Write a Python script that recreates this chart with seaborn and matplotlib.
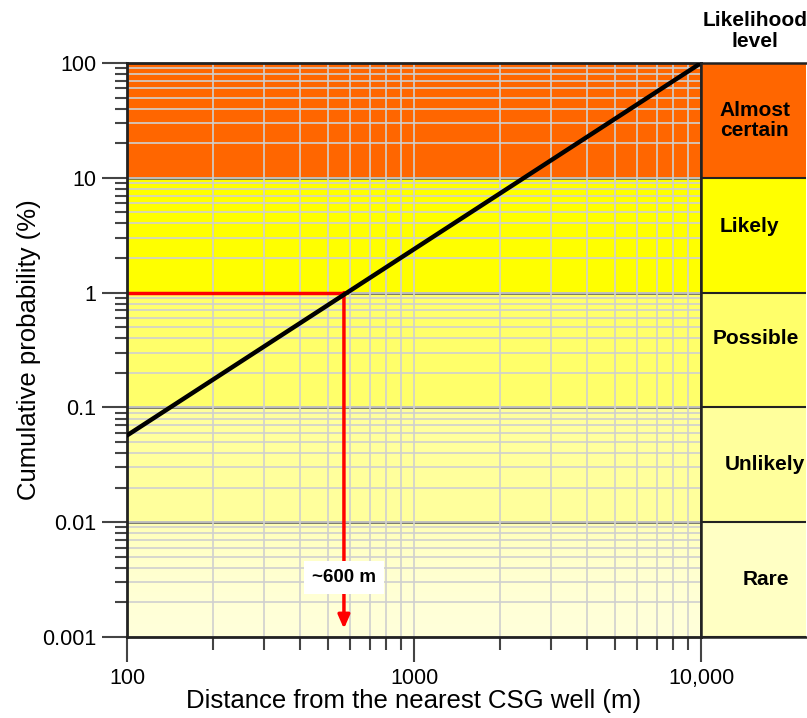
import numpy as np
import matplotlib
matplotlib.use("Agg")
import matplotlib.pyplot as plt
import seaborn as sns
import pandas as pd
from matplotlib.ticker import FixedLocator, LogLocator, NullFormatter

# data
distance_m = [100, 10000]
cum_prob = [0.057, 100]
ref_distance = 570
ref_prob = 1
band_edges = [0.001, 0.01, 0.1, 1, 10, 100]
band_names = ["Rare", "Unlikely", "Possible", "Likely", "Almost\ncertain"]
band_colors = ["#FFFFC4", "#FFFF9C", "#FFFF6A", "#FFFF00", "#FF6600"]
y_ticks = [0.001, 0.01, 0.1, 1, 10, 100]
y_ticklabels = ["0.001", "0.01", "0.1", "1", "10", "100"]
x_ticks = [100, 1000, 10000]
x_ticklabels = ["100", "1000", "10,000"]

sns.set_style("ticks")
plt.rcParams['font.family'] = ['Liberation Sans', 'DejaVu Sans']
plt.rcParams['text.color'] = 'black'
plt.rcParams['axes.labelcolor'] = 'black'
plt.rcParams['xtick.labelcolor'] = 'black'
plt.rcParams['ytick.labelcolor'] = 'black'

fig = plt.figure(figsize=(8.07, 7.18), dpi=100)
ax = fig.add_axes([127 / 807, 81 / 718, 574 / 807, 574 / 718])
side = fig.add_axes([701 / 807, 81 / 718, 105 / 807, 574 / 718])

ax.set_xscale("log")
ax.set_yscale("log")

# colour bands (rare band gets a soft gradient)
for lo, hi, col in zip(band_edges[:-1], band_edges[1:], band_colors):
    if lo == band_edges[0]:
        grad = np.linspace(0, 1, 100).reshape(-1, 1)
        cmap = matplotlib.colors.LinearSegmentedColormap.from_list("rare", ["#FFFFDA", "#FFFFB4"])
        ax.imshow(grad, extent=[100, 10000, lo, hi], origin="lower", aspect="auto",
                  cmap=cmap, zorder=1)
    else:
        ax.axhspan(lo, hi, color=col, zorder=1, lw=0)

ax.set_xlim(100, 10000)
ax.set_ylim(0.001, 100)

ax.xaxis.set_major_locator(FixedLocator(x_ticks))
ax.xaxis.set_minor_locator(LogLocator(base=10, subs=np.arange(2, 10)))
ax.yaxis.set_major_locator(FixedLocator(y_ticks))
ax.yaxis.set_minor_locator(LogLocator(base=10, subs=np.arange(2, 10), numticks=20))
ax.xaxis.set_minor_formatter(NullFormatter())
ax.yaxis.set_minor_formatter(NullFormatter())
ax.set_xticklabels(x_ticklabels)
ax.set_yticklabels(y_ticklabels)

ax.set_axisbelow(False)
ax.grid(which="both", axis="both", color="#CFCFCF", lw=1.2, zorder=2)
for yv in band_edges[1:-1]:
    ax.axhline(yv, color="#555555", lw=1.8, zorder=2.5)

ax.tick_params(which="major", length=18, width=1.5, color="#444444", labelsize=15.5, pad=4)
ax.tick_params(which="minor", length=9, width=1.5, color="#444444")
for s in ax.spines.values():
    s.set_linewidth(2)
    s.set_color("#222222")
    s.set_zorder(5)

line_df = pd.DataFrame({"distance": distance_m, "prob": cum_prob})
sns.lineplot(data=line_df, x="distance", y="prob", color="black", lw=3.2, ax=ax, zorder=6)

# reference at 1 %
ax.plot([100, ref_distance], [ref_prob, ref_prob], color="red", lw=2.5, zorder=5)
ax.annotate("", xy=(ref_distance, 0.00118), xytext=(ref_distance, ref_prob),
            arrowprops=dict(arrowstyle="-|>,head_width=0.35,head_length=0.8",
                            color="red", lw=2.5, shrinkA=0, shrinkB=0), zorder=5)
ax.text(ref_distance, 0.0033, "~600 m", ha="center", va="center", fontsize=13.5,
        fontweight="bold", zorder=7,
        bbox=dict(facecolor="white", edgecolor="none", pad=6))

ax.set_xlabel("Distance from the nearest CSG well (m)", fontsize=18.5, labelpad=0)
ax.set_ylabel("Cumulative probability (%)", fontsize=18.5, labelpad=1)

# likelihood panel
side.set_yscale("log")
side.set_ylim(0.001, 100)
side.set_xlim(0, 1)
label_x = [0.62, 0.61, 0.52, 0.46, 0.51]
label_shift = [1.0, 1.0, 1.25, 1.2, 1.0]
for i, (lo, hi, col, name) in enumerate(zip(band_edges[:-1], band_edges[1:], band_colors, band_names)):
    side.axhspan(lo, hi, color=col, lw=0)
    side.axhline(lo, color="#222222", lw=1.5)
    side.text(label_x[i], np.sqrt(lo * hi) * label_shift[i], name, ha="center", va="center",
              fontsize=15, fontweight="bold", linespacing=1.1)
side.set_xticks([])
side.set_yticks([])
side.minorticks_off()
for s in side.spines.values():
    s.set_linewidth(1.8)
    s.set_color("#222222")
side.spines["right"].set_visible(False)

fig.text(755 / 807, 1 - 31 / 718, "Likelihood\nlevel", ha="center", va="center",
         fontsize=15, fontweight="bold", linespacing=1.15)

fig.savefig("out.png", dpi=100)
